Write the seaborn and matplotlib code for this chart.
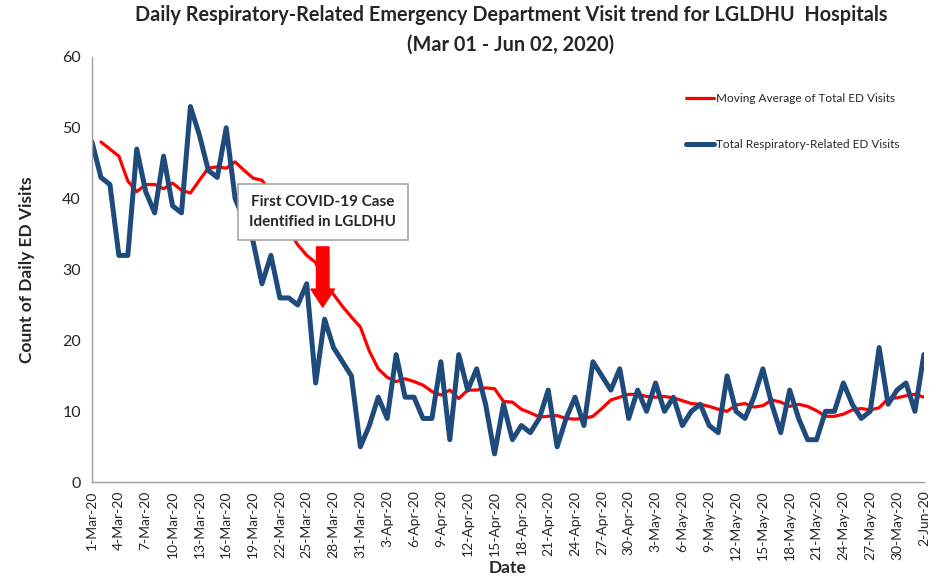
import numpy as np
import pandas as pd
import matplotlib
matplotlib.use("Agg")
import matplotlib.pyplot as plt
import matplotlib.dates as mdates
import seaborn as sns

# Daily values, 1-Mar-20 .. 2-Jun-20 (94 days)
start_date = "2020-03-01"
end_date = "2020-06-02"

total_resp_visits = [
    48, 43, 42, 32, 32, 47, 41, 38, 46, 39,
    38, 53, 49, 44, 43, 50, 40, 37, 34, 28,
    32, 26, 26, 25, 28, 14, 23, 19, 17, 15,
    5, 8, 12, 9, 18, 12, 12, 9, 9, 17,
    6, 18, 13, 16, 11, 4, 11, 6, 8, 7,
    9, 13, 5, 9, 12, 8, 17, 15, 13, 16,
    9, 13, 10, 14, 10, 12, 8, 10, 11, 8,
    7, 15, 10, 9, 12, 16, 11, 7, 13, 9,
    6, 6, 10, 10, 14, 11, 9, 10, 19, 11,
    13, 14, 10, 18,
]

moving_avg_visits = [
    np.nan, 48, 47, 46, 42.5, 41, 42, 42, 41.4, 42.2,
    41.2, 40.8, 42.6, 44.3, 44.5, 44.3, 45.2, 44, 42.9, 42.6,
    41, 38.5, 35.5, 33.5, 32, 31, 28, 26.5, 24.8, 23.3,
    21.9, 18.5, 16, 14.8, 14.2, 14.6, 14.2, 13.7, 12.8, 12.3,
    13, 11.8, 13, 13, 13.3, 13.2, 11.4, 11.3, 10.3, 9.8,
    9.2, 9.3, 9.4, 9.0, 8.9, 9.0, 9.3, 10.4, 11.6, 12,
    12.4, 12.4, 12.1, 12, 12.1, 11.9, 11.5, 11.1, 11, 10.7,
    10.3, 10, 10.9, 11.1, 10.6, 10.8, 11.6, 11.3, 10.7, 11,
    10.7, 10.1, 9.3, 9.3, 9.6, 10.2, 10.4, 10.2, 10.5, 11.8,
    11.9, 12.2, 12.4, 12,
]

series_names = ["Moving Average of Total ED Visits", "Total Respiratory-Related ED Visits"]
series_colors = ["#FF0000", "#1F4A7C"]

title_lines = [
    "Daily Respiratory-Related Emergency Department Visit trend for LGLDHU  Hospitals",
    "(Mar 01 - Jun 02, 2020)",
]
note_text = "First COVID-19 Case\nIdentified in LGLDHU"
note_date = "2020-03-26 19:00"


def build_frame():
    dates = pd.date_range(start_date, end_date, freq="D")
    df = pd.DataFrame({
        "Date": dates,
        series_names[0]: moving_avg_visits,
        series_names[1]: total_resp_visits,
    })
    return df.melt(id_vars="Date", var_name="Series", value_name="Visits")


def plot_trend(long_df, save_path="out.png"):
    sns.set_style("white")
    plt.rcParams["font.family"] = ["Lato", "DejaVu Sans"]

    fig = plt.figure(figsize=(9.41, 5.81), dpi=100)
    ax = fig.add_axes([0.0978, 0.170, 0.884, 0.732])

    sns.lineplot(data=long_df, x="Date", y="Visits", hue="Series",
                 hue_order=series_names, palette=series_colors,
                 size="Series", sizes={series_names[0]: 2.3, series_names[1]: 3.6},
                 ax=ax, solid_joinstyle="round", solid_capstyle="round")

    # axes
    ax.set_xlim(pd.Timestamp(start_date), pd.Timestamp(end_date))
    ax.set_ylim(0, 60)
    ax.set_yticks(range(0, 61, 10))
    ax.set_xticks(pd.date_range(start_date, end_date, freq="3D"))
    ax.xaxis.set_major_formatter(mdates.DateFormatter("%-d-%b-%y"))
    ax.tick_params(axis="x", rotation=90, labelsize=10, length=4, color="#A0A0A0", pad=2)
    ax.tick_params(axis="y", labelsize=11.5, length=4, color="#A0A0A0", pad=4)
    for s in ["top", "right"]:
        ax.spines[s].set_visible(False)
    for s in ["left", "bottom"]:
        ax.spines[s].set_color("#A0A0A0")
        ax.spines[s].set_linewidth(1.0)

    ax.set_xlabel("Date", fontsize=12.5, fontweight="bold")
    ax.set_ylabel("Count of Daily ED Visits", fontsize=12.5, fontweight="bold")
    ax.yaxis.set_label_coords(-0.068, 0.5)
    ax.xaxis.set_label_coords(0.5, -0.184)

    fig.suptitle("\n".join(title_lines), x=0.543, y=0.992, fontsize=14.3,
                 fontweight="bold", linespacing=1.65, va="top")

    # annotation box and arrow
    ax.text(pd.Timestamp(note_date), 38.1, note_text, ha="center", va="center",
            fontsize=11, fontweight="bold", linespacing=1.5,
            bbox=dict(boxstyle="square,pad=0.75", facecolor="white",
                      edgecolor="#A6A6A6", linewidth=1.2), zorder=5)
    ax.annotate("", xy=(pd.Timestamp(note_date), 24.7),
                xytext=(pd.Timestamp(note_date), 33.2),
                arrowprops=dict(facecolor="#FF0000", edgecolor="#FF0000",
                                width=9, headwidth=17, headlength=13, shrink=0),
                zorder=6)

    handles, labels = ax.get_legend_handles_labels()
    ax.legend(handles, labels, loc="upper left", frameon=False,
              bbox_to_anchor=(686 / 941, 1 - 93 / 581),
              bbox_transform=fig.transFigure, fontsize=8.5,
              labelspacing=3.0, handlelength=2.4, handletextpad=0.15,
              borderpad=0, borderaxespad=0)
    fig.savefig(save_path, dpi=100)
    plt.close(fig)


if __name__ == "__main__":
    plot_trend(build_frame())
